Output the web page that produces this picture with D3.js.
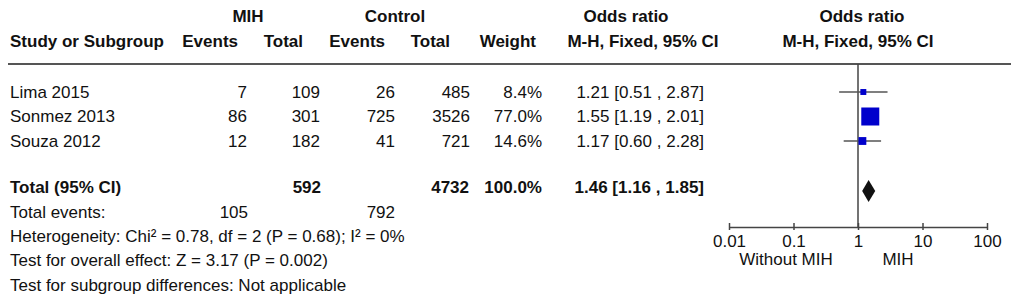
<!DOCTYPE html>
<html>
<head>
  <title>Forest plot</title>
  <script src="https://cdn.jsdelivr.net/npm/d3@7"></script>
  <style>
    body { margin: 0; background: #fff; }
    text { font-family: "Liberation Sans", Arial, sans-serif; font-size: 17px; fill: #111; }
  </style>
</head>
<body>
  <svg width="1021" height="304" id="mainsvg"></svg>
  <script>
    // study rows
    const studies = ['Lima 2015', 'Sonmez 2013', 'Souza 2012'];
    const mihEvents = [7, 86, 12];
    const mihTotal = [109, 301, 182];
    const ctrlEvents = [26, 725, 41];
    const ctrlTotal = [485, 3526, 721];
    const weights = [8.4, 77.0, 14.6];
    const orValue = [1.21, 1.55, 1.17];
    const orLow = [0.51, 1.19, 0.60];
    const orHigh = [2.87, 2.01, 2.28];

    // pooled result
    const totalMih = 592, totalCtrl = 4732;
    const totalEventsMih = 105, totalEventsCtrl = 792;
    const pooled = [1.46, 1.16, 1.85]; // OR, low, high

    const ticks = [0.01, 0.1, 1, 10, 100];
    const footer = ['Heterogeneity: Chi² = 0.78, df = 2 (P = 0.68); I² = 0%',
      'Test for overall effect: Z = 3.17 (P = 0.002)',
      'Test for subgroup differences: Not applicable'];

    const svg = d3.select('#mainsvg');
    const x = d3.scaleLog().domain([0.01, 100]).range([729, 987]);
    const rowY = d3.scaleLinear().domain([0, 1]).range([92, 116.5]); // row index -> centre y
    const sq = d3.scaleSqrt().domain([0, 77]).range([0, 18]);      // weight -> square side

    const txt = (s, xx, yy, anchor, bold) => svg.append('text').text(s)
      .attr('x', xx).attr('y', yy).attr('dy', '0.35em')
      .attr('text-anchor', anchor || 'start')
      .attr('font-weight', bold ? 'bold' : null);

    // header
    txt('MIH', 248, 16, 'middle', true);
    txt('Control', 395, 16, 'middle', true);
    txt('Odds ratio', 626, 16, 'middle', true);
    txt('Odds ratio', 862, 16, 'middle', true);
    txt('Study or Subgroup', 10, 41, 'start', true);
    txt('Events', 238, 41, 'end', true);
    txt('Total', 303, 41, 'end', true);
    txt('Events', 385, 41, 'end', true);
    txt('Total', 450, 41, 'end', true);
    txt('Weight', 536, 41, 'end', true);
    txt('M-H, Fixed, 95% CI', 643, 41, 'middle', true);
    txt('M-H, Fixed, 95% CI', 858, 41, 'middle', true);

    svg.append('line').attr('x1', 8).attr('x2', 1011).attr('y1', 64).attr('y2', 64)
      .attr('stroke', '#555').attr('stroke-width', 2);

    // rows
    studies.forEach((s, i) => {
      const y = rowY(i);
      txt(s, 10, y);
      txt(mihEvents[i], 247, y, 'end');
      txt(mihTotal[i], 320, y, 'end');
      txt(ctrlEvents[i], 395, y, 'end');
      txt(ctrlTotal[i], 470, y, 'end');
      txt(weights[i].toFixed(1) + '%', 542, y, 'end');
      txt(`${orValue[i].toFixed(2)} [${orLow[i].toFixed(2)} , ${orHigh[i].toFixed(2)}]`, 704, y, 'end');
    });

    // totals
    const yT = 187;
    txt('Total (95% CI)', 10, yT, 'start', true);
    txt(totalMih, 321, yT, 'end', true);
    txt(totalCtrl, 469, yT, 'end', true);
    txt('100.0%', 542, yT, 'end', true);
    txt(`${pooled[0].toFixed(2)} [${pooled[1].toFixed(2)} , ${pooled[2].toFixed(2)}]`, 704, yT, 'end', true);
    txt('Total events:', 10, 212);
    txt(totalEventsMih, 248, 212, 'end');
    txt(totalEventsCtrl, 395, 212, 'end');
    footer.forEach((f, i) => txt(f, 10, 236 + i * 24.3));

    // plot: line of no effect
    const axisY = 227;
    svg.append('line').attr('x1', x(1)).attr('x2', x(1)).attr('y1', 64).attr('y2', axisY)
      .attr('stroke', '#444').attr('stroke-width', 1.5);

    // CIs and squares
    studies.forEach((s, i) => {
      const y = rowY(i);
      svg.append('line').attr('x1', x(orLow[i])).attr('x2', x(orHigh[i]))
        .attr('y1', y).attr('y2', y).attr('stroke', '#555').attr('stroke-width', 1.5);
      const w = Math.max(sq(weights[i]), 5);
      svg.append('rect').attr('x', x(orValue[i]) - w / 2).attr('y', y - w / 2)
        .attr('width', w).attr('height', w).attr('fill', '#0000cc');
    });

    // pooled diamond
    const dy = 11;
    svg.append('path')
      .attr('d', `M${x(pooled[1])},${yT + 4} L${x(pooled[0])},${yT + 4 - dy} L${x(pooled[2])},${yT + 4} L${x(pooled[0])},${yT + 4 + dy} Z`)
      .attr('fill', '#111');

    // axis
    const axis = d3.axisBottom(x).tickValues(ticks).tickFormat(d => d).tickSize(4).tickSizeOuter(0);
    const ag = svg.append('g').attr('transform', `translate(0,${axisY})`).call(axis);
    ag.select('.domain').attr('stroke', '#444').attr('stroke-width', 1.5);
    ag.selectAll('.tick line').attr('y1', -4).attr('y2', 3).attr('stroke', '#444').attr('stroke-width', 1.5);
    ag.selectAll('.tick text').attr('y', 14).attr('dy', '0.35em')
      .style('font-size', '17px').style('font-family', '"Liberation Sans", Arial, sans-serif').attr('fill', '#111');

    txt('Without MIH', 786, 259, 'middle');
    txt('MIH', 898, 259, 'middle');
  </script>
</body>
</html>
